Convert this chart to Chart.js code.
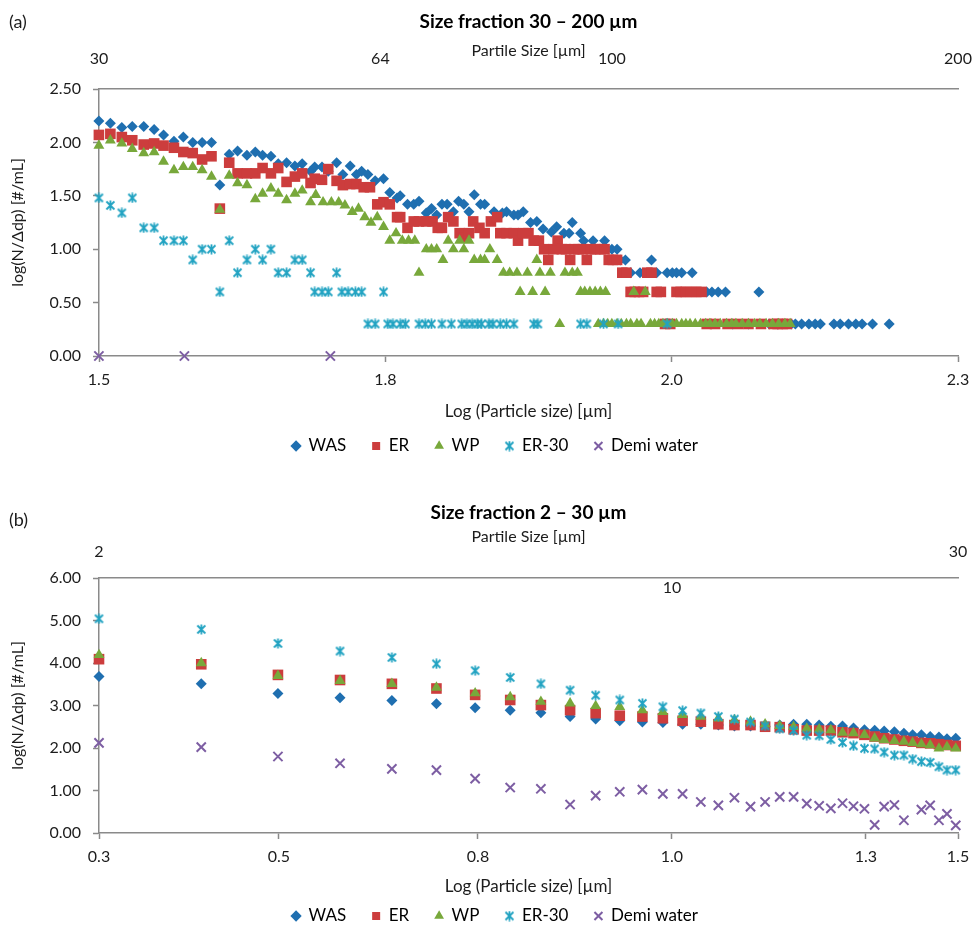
<!DOCTYPE html>
<html>
<head>
<meta charset="utf-8">
<title>Size fraction</title>
<script src="https://cdn.jsdelivr.net/npm/chart.js@4.4.1/dist/chart.umd.min.js"></script>
<style>
  body { margin: 0; background: #fff; }
  canvas { display: block; }
</style>
</head>
<body>
<canvas id="chartA" width="975" height="470"></canvas>
<canvas id="chartB" width="975" height="466"></canvas>
<script>
// (a) size fraction 30 - 200 µm, points are [log size, log(N/Δdp)]
const wasA = [[1.477,2.20],[1.488,2.18],[1.499,2.14],[1.509,2.15],[1.520,2.15],[1.530,2.12],[1.539,2.07],[1.549,2.01],[1.558,2.05],[1.567,2.00],[1.576,2.00],[1.585,2.00],[1.593,1.60],[1.602,1.89],[1.610,1.92],[1.619,1.88],[1.627,1.91],[1.634,1.88],[1.642,1.87],[1.649,1.80],[1.657,1.81],[1.665,1.78],[1.672,1.80],[1.680,1.73],[1.684,1.77],[1.691,1.77],[1.697,1.73],[1.705,1.81],[1.711,1.70],[1.718,1.78],[1.724,1.70],[1.729,1.73],[1.735,1.70],[1.742,1.64],[1.750,1.66],[1.756,1.53],[1.763,1.48],[1.766,1.50],[1.773,1.42],[1.779,1.42],[1.784,1.45],[1.791,1.34],[1.796,1.38],[1.801,1.32],[1.806,1.42],[1.811,1.42],[1.817,1.35],[1.822,1.45],[1.827,1.42],[1.832,1.35],[1.837,1.51],[1.843,1.42],[1.847,1.42],[1.856,1.35],[1.864,1.34],[1.868,1.35],[1.875,1.32],[1.879,1.32],[1.884,1.35],[1.891,1.25],[1.897,1.26],[1.903,1.19],[1.911,1.16],[1.916,1.21],[1.923,1.15],[1.928,1.15],[1.931,1.25],[1.939,1.15],[1.942,1.08],[1.951,1.08],[1.962,1.08],[1.969,1.00],[1.974,1.00],[1.977,0.90],[1.982,0.90],[1.987,0.78],[1.996,0.78],[2.007,0.90],[2.012,0.78],[2.022,0.78],[2.027,0.78],[2.031,0.78],[2.036,0.78],[2.046,0.78],[2.060,0.60],[2.065,0.60],[2.071,0.60],[2.078,0.60],[2.085,0.30],[2.100,0.30],[2.110,0.60],[2.120,0.30],[2.128,0.30],[2.141,0.30],[2.145,0.30],[2.151,0.30],[2.158,0.30],[2.164,0.30],[2.169,0.30],[2.182,0.30],[2.188,0.30],[2.196,0.30],[2.203,0.30],[2.209,0.30],[2.219,0.30],[2.235,0.30]];
const erA = [[1.477,2.07],[1.488,2.08],[1.499,2.05],[1.509,2.02],[1.520,1.98],[1.530,1.99],[1.539,1.97],[1.549,1.95],[1.558,1.91],[1.567,1.90],[1.576,1.84],[1.585,1.87],[1.593,1.38],[1.602,1.81],[1.610,1.71],[1.619,1.71],[1.627,1.71],[1.634,1.76],[1.642,1.71],[1.649,1.76],[1.657,1.63],[1.665,1.68],[1.672,1.71],[1.680,1.62],[1.684,1.66],[1.691,1.65],[1.697,1.75],[1.705,1.64],[1.711,1.60],[1.718,1.61],[1.724,1.61],[1.731,1.58],[1.737,1.58],[1.744,1.42],[1.750,1.44],[1.756,1.42],[1.763,1.30],[1.766,1.30],[1.773,1.20],[1.779,1.26],[1.784,1.26],[1.791,1.26],[1.797,1.26],[1.802,1.20],[1.806,1.20],[1.812,1.30],[1.817,1.26],[1.823,1.15],[1.827,1.11],[1.832,1.15],[1.836,1.26],[1.842,1.20],[1.847,1.15],[1.853,1.26],[1.859,1.30],[1.862,1.15],[1.868,1.15],[1.875,1.15],[1.879,1.08],[1.884,1.15],[1.889,1.15],[1.894,1.08],[1.899,1.08],[1.904,1.00],[1.908,0.90],[1.913,1.00],[1.917,1.08],[1.921,1.00],[1.925,1.00],[1.929,0.90],[1.933,1.00],[1.937,1.00],[1.941,1.00],[1.945,0.90],[1.949,1.00],[1.953,1.00],[1.958,1.00],[1.962,1.00],[1.966,0.90],[1.970,0.90],[1.974,0.90],[1.979,0.78],[1.983,0.78],[1.987,0.60],[1.991,0.60],[1.995,0.60],[1.999,0.60],[2.003,0.78],[2.007,0.78],[2.012,0.60],[2.016,0.60],[2.020,0.30],[2.025,0.30],[2.031,0.60],[2.035,0.60],[2.040,0.60],[2.045,0.60],[2.050,0.60],[2.055,0.60],[2.060,0.30],[2.068,0.30],[2.080,0.30],[2.090,0.30],[2.100,0.30],[2.112,0.30],[2.124,0.30],[2.128,0.30],[2.133,0.30],[2.137,0.30]];
const wpA = [[1.477,1.97],[1.488,2.02],[1.499,1.99],[1.509,1.94],[1.520,1.90],[1.530,1.91],[1.539,1.82],[1.549,1.74],[1.558,1.77],[1.567,1.77],[1.576,1.74],[1.585,1.68],[1.593,1.37],[1.602,1.69],[1.610,1.62],[1.619,1.60],[1.627,1.47],[1.634,1.52],[1.642,1.57],[1.649,1.52],[1.657,1.46],[1.665,1.52],[1.672,1.55],[1.680,1.44],[1.685,1.51],[1.692,1.44],[1.700,1.44],[1.707,1.44],[1.713,1.41],[1.720,1.35],[1.726,1.38],[1.732,1.30],[1.738,1.25],[1.744,1.30],[1.750,1.21],[1.756,1.08],[1.762,1.15],[1.768,1.08],[1.774,1.08],[1.780,1.08],[1.784,0.78],[1.791,1.00],[1.796,1.00],[1.801,1.00],[1.807,0.90],[1.812,1.08],[1.817,1.00],[1.823,1.08],[1.827,1.00],[1.832,1.08],[1.837,0.90],[1.843,0.90],[1.847,0.90],[1.852,1.00],[1.859,0.90],[1.865,0.78],[1.871,0.78],[1.878,0.78],[1.881,0.60],[1.888,0.78],[1.893,0.60],[1.897,0.90],[1.900,0.78],[1.905,0.60],[1.910,0.78],[1.919,0.30],[1.924,0.78],[1.931,0.78],[1.936,0.78],[1.939,0.60],[1.943,0.60],[1.948,0.60],[1.953,0.60],[1.956,0.30],[1.958,0.60],[1.961,0.30],[1.963,0.60],[1.965,0.30],[1.969,0.30],[1.974,0.30],[1.978,0.30],[1.983,0.30],[1.987,0.30],[1.990,0.60],[1.993,0.30],[1.997,0.30],[2.001,0.60],[2.006,0.30],[2.010,0.30],[2.014,0.30],[2.018,0.30],[2.022,0.30],[2.027,0.30],[2.031,0.30],[2.036,0.30],[2.040,0.30],[2.044,0.30],[2.049,0.30],[2.054,0.30],[2.059,0.30],[2.063,0.30],[2.068,0.30],[2.073,0.30],[2.079,0.30],[2.084,0.30],[2.088,0.30],[2.094,0.30],[2.100,0.30],[2.106,0.30],[2.111,0.30],[2.117,0.30],[2.123,0.30],[2.129,0.30],[2.135,0.30],[2.140,0.30]];
const er30A = [[1.477,1.48],[1.488,1.41],[1.499,1.34],[1.509,1.48],[1.520,1.20],[1.530,1.20],[1.539,1.08],[1.549,1.08],[1.558,1.08],[1.567,0.90],[1.576,1.00],[1.585,1.00],[1.593,0.60],[1.602,1.08],[1.610,0.78],[1.619,0.90],[1.627,1.00],[1.634,0.90],[1.642,1.00],[1.649,0.78],[1.657,0.78],[1.665,0.90],[1.672,0.90],[1.680,0.78],[1.684,0.60],[1.691,0.60],[1.697,0.60],[1.705,0.78],[1.710,0.60],[1.716,0.60],[1.723,0.60],[1.729,0.60],[1.735,0.30],[1.742,0.30],[1.750,0.60],[1.754,0.30],[1.759,0.30],[1.766,0.30],[1.771,0.30],[1.784,0.30],[1.790,0.30],[1.796,0.30],[1.806,0.30],[1.815,0.30],[1.825,0.30],[1.830,0.30],[1.835,0.30],[1.840,0.30],[1.844,0.30],[1.851,0.30],[1.855,0.30],[1.862,0.30],[1.868,0.30],[1.875,0.30],[1.894,0.30],[1.898,0.30],[1.939,0.30],[1.945,0.30],[1.961,0.30],[1.975,0.30],[2.022,0.30]];
const demiA = [[1.477,0],[1.559,0],[1.699,0]];

const xTicksA = [1.4771, 1.7517, 2.0264, 2.3010];
const xLabelsA = ['1.5', '1.8', '2.0', '2.3'];
const topTicksA = [1.4771, 1.747, 1.969, 2.3010];
const topLabelsA = ['30', '64', '100', '200'];

// (b) size fraction 2 - 30 µm, one value per size class
const sizeB = [0.301,0.441,0.546,0.631,0.702,0.763,0.816,0.864,0.906,0.946,0.981,1.014,1.045,1.073,1.100,1.125,1.149,1.171,1.193,1.213,1.233,1.252,1.270,1.287,1.303,1.319,1.334,1.349,1.363,1.376,1.390,1.403,1.415,1.427,1.439,1.451,1.462,1.474];
const wasB = [3.68,3.51,3.28,3.18,3.12,3.04,2.95,2.89,2.83,2.74,2.68,2.64,2.61,2.60,2.56,2.56,2.54,2.52,2.52,2.51,2.54,2.56,2.56,2.54,2.51,2.52,2.47,2.43,2.42,2.40,2.38,2.35,2.31,2.31,2.27,2.26,2.22,2.23];
const erB = [4.09,3.97,3.72,3.60,3.51,3.40,3.25,3.13,3.01,2.89,2.82,2.76,2.74,2.70,2.64,2.62,2.56,2.54,2.54,2.50,2.49,2.44,2.41,2.41,2.41,2.37,2.35,2.31,2.27,2.23,2.20,2.17,2.15,2.12,2.11,2.09,2.07,2.05];
const wpB = [4.19,4.00,3.70,3.58,3.51,3.42,3.29,3.20,3.09,3.05,2.99,2.97,2.89,2.85,2.78,2.74,2.70,2.66,2.62,2.56,2.52,2.50,2.46,2.44,2.42,2.36,2.35,2.31,2.23,2.19,2.17,2.15,2.12,2.09,2.07,1.99,2.03,1.99];
const er30B = [5.04,4.79,4.46,4.28,4.13,3.98,3.82,3.66,3.51,3.36,3.24,3.13,3.05,2.97,2.88,2.82,2.74,2.68,2.61,2.52,2.45,2.41,2.30,2.29,2.20,2.13,2.05,1.99,1.98,1.90,1.83,1.83,1.74,1.68,1.66,1.56,1.48,1.48];
const demiB = [2.12,2.02,1.80,1.64,1.51,1.48,1.28,1.07,1.04,0.67,0.88,0.97,1.02,0.92,0.92,0.73,0.65,0.83,0.62,0.73,0.85,0.85,0.69,0.64,0.58,0.70,0.63,0.57,0.19,0.62,0.66,0.30,null,0.55,0.65,0.30,0.45,0.18];

const xTicksB = [0.3010, 0.5474, 0.8199, 1.0855, 1.3511, 1.4771];
const xLabelsB = ['0.3', '0.5', '0.8', '1.0', '1.3', '1.5'];
const topTicksB = [0.3010, 1.4771];
const topLabelsB = ['2', '30'];
const innerTicksB = [1.0855];
const innerLabelsB = ['10'];

const FONT = 'Lato, "Liberation Sans", sans-serif';
const GREY = '#8a8a8a';
const INK = '#1c1c1c';
Chart.defaults.font.family = FONT;
Chart.defaults.color = INK;

// Excel-like "*" marker: an x with a vertical bar
function asterisk(color) {
  const c = document.createElement('canvas');
  c.width = 11; c.height = 11;
  const g = c.getContext('2d');
  g.strokeStyle = color;
  g.lineWidth = 1.8;
  g.beginPath();
  g.moveTo(5.5, 0.5); g.lineTo(5.5, 10.5);
  g.moveTo(1.5, 1.5); g.lineTo(9.5, 9.5);
  g.moveTo(9.5, 1.5); g.lineTo(1.5, 9.5);
  g.stroke();
  return c;
}

const looks = [
  { label: 'WAS', color: '#1f6fb0', style: 'rectRot', r: 5.5 },
  { label: 'ER', color: '#cc3d3d', style: 'rect', r: 7.5 },
  { label: 'WP', color: '#78a83b', style: 'triangle', r: 6.3 },
  { label: 'ER-30', color: '#22a3c2', style: asterisk('#22a3c2'), r: 5 },
  { label: 'Demi water', color: '#7d5ea3', style: 'crossRot', r: 6.5 }
];

function makeSets(seriesData) {
  return seriesData.map((pts, i) => {
    const s = looks[i];
    return {
      label: s.label,
      data: pts,
      pointStyle: s.style,
      pointRadius: s.r,
      pointHoverRadius: s.r,
      backgroundColor: s.color,
      borderColor: s.color,
      borderWidth: s.style === 'crossRot' ? 2 : 0,
      showLine: false,
      clip: false,
      order: seriesData.length - i
    };
  });
}

const panelLabel = {
  id: 'panelLabel',
  afterDraw(chart, args, opts) {
    const ctx = chart.ctx;
    ctx.save();
    ctx.font = '18px ' + FONT;
    ctx.fillStyle = INK;
    ctx.textBaseline = 'middle';
    ctx.fillText(opts.text, 9, opts.y);
    ctx.restore();
  }
};

function fixed(h) {
  return s => { if (h !== undefined) s.height = h; s.paddingLeft = 0; s.paddingRight = 0; };
}

// top axis labels are mirrored so they are not clipped to the (thin) axis box;
// padding then is measured from the axis line downwards (negative = above)
function topAxis(p, ticks, labels, pad, weight, height, showLine) {
  return {
    type: 'linear', position: 'top', min: p.xMin, max: p.xMax, weight,
    afterBuildTicks: s => { s.ticks = ticks.map(v => ({ value: v })); },
    ticks: { callback: (v, i) => labels[i], font: { size: 16 }, color: INK, mirror: true, padding: pad,
      maxRotation: 0, minRotation: 0, autoSkip: false },
    grid: { display: false, drawTicks: false },
    border: { display: showLine, color: GREY, width: 1.5 },
    afterFit: fixed(height)
  };
}

function buildOptions(p) {
  const tickFont = { size: 16 };
  const scales = {
    x: {
      type: 'linear', position: 'bottom', min: p.xMin, max: p.xMax,
      afterBuildTicks: s => { s.ticks = p.xTicks.map(v => ({ value: v })); },
      ticks: { callback: (v, i) => p.xLabels[i], font: tickFont, color: INK, padding: 8.4, maxRotation: 0, minRotation: 0, autoSkip: false },
      grid: { drawOnChartArea: false, tickLength: 6, color: GREY, tickWidth: 1.5 },
      border: { color: GREY, width: 1.5 },
      title: { display: true, text: 'Log (Particle size) [µm]', font: { size: 17 }, color: INK, padding: { top: 0, bottom: p.xTitlePad } },
      afterFit: fixed(p.xHeight)
    },
    x2: topAxis(p, p.topTicks, p.topLabels, p.topPad, 1, p.topHeight, true),
    y: {
      min: 0, max: p.yMax,
      ticks: { stepSize: p.yStep, callback: v => v.toFixed(2), font: tickFont, color: INK, padding: 12 },
      grid: { drawOnChartArea: false, tickLength: 6, color: GREY, tickWidth: 1.5 },
      border: { color: GREY, width: 1.5 },
      title: { display: true, text: 'log(N/Δdp) [#/mL]', font: { size: 16 }, color: INK, padding: { top: -24, bottom: 0 } },
      afterFit: s => { s.width = 67; s.paddingTop = 0; s.paddingBottom = 0; }
    }
  };
  if (p.innerTicks) {
    scales.x3 = topAxis(p, p.innerTicks, p.innerLabels, p.innerPad, 0, 0, false);
  }
  return {
    responsive: false,
    animation: false,
    events: [],
    layout: { padding: { left: 32, right: 17, top: 0, bottom: p.padBottom } },
    plugins: {
      title: { display: true, text: p.title, fullSize: false, color: '#000', font: { size: 19, weight: 'bold' }, padding: { top: p.titleTop, bottom: 0 } },
      subtitle: { display: true, text: 'Partile Size [µm]', fullSize: false, color: INK, font: { size: 16 }, padding: { top: p.subTop, bottom: 0 } },
      legend: {
        position: 'bottom',
        labels: { usePointStyle: true, boxWidth: 8, boxHeight: 8, padding: 26, font: { size: 17 }, color: '#000',
          sort: (a, b) => a.datasetIndex - b.datasetIndex }
      },
      tooltip: { enabled: false },
      panelLabel: { text: p.tag, y: p.tagY }
    },
    scales
  };
}

const toPts = arr => arr.map(([x, y]) => ({ x, y }));
const onSizes = ys => sizeB.map((x, i) => ({ x, y: ys[i] }));

new Chart(document.getElementById('chartA'), {
  type: 'scatter',
  data: { datasets: makeSets([toPts(wasA), toPts(erA), toPts(wpA), toPts(er30A), toPts(demiA)]) },
  options: buildOptions({
    tag: '(a)', tagY: 22, title: 'Size fraction 30 – 200 µm', titleTop: 10.6, subTop: 8,
    xMin: 1.4771, xMax: 2.3010, xTicks: xTicksA, xLabels: xLabelsA,
    topTicks: topTicksA, topLabels: topLabelsA, topHeight: 28.4, topPad: -39.6,
    yMax: 2.5, yStep: 0.5, xHeight: 55.5, xTitlePad: -10.7, padBottom: 5.5
  }),
  plugins: [panelLabel]
});

new Chart(document.getElementById('chartB'), {
  type: 'scatter',
  data: { datasets: makeSets([onSizes(wasB), onSizes(erB), onSizes(wpB), onSizes(er30B), onSizes(demiB)]) },
  options: buildOptions({
    tag: '(b)', tagY: 50, title: 'Size fraction 2 – 30 µm', titleTop: 31.6, subTop: 3,
    xMin: 0.3010, xMax: 1.4771, xTicks: xTicksB, xLabels: xLabelsB,
    topTicks: topTicksB, topLabels: topLabelsB, topHeight: 31.4, topPad: -35.6,
    innerTicks: innerTicksB, innerLabels: innerLabelsB, innerPad: 0.4,
    yMax: 6, yStep: 1, xHeight: 48.5, xTitlePad: -15.7, padBottom: 1.5
  }),
  plugins: [panelLabel]
});
</script>
</body>
</html>
